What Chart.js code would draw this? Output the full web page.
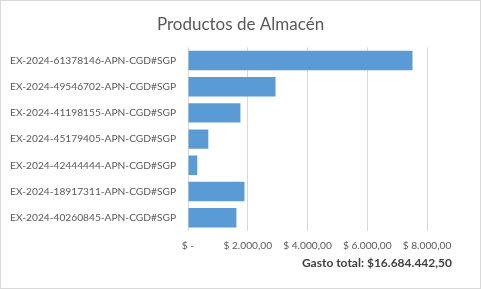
<!DOCTYPE html>
<html>
<head>
<meta charset="utf-8">
<script src="https://cdn.jsdelivr.net/npm/chart.js@4"></script>
<style>
  html, body { margin: 0; padding: 0; background: #fff; }
  #wrap { width: 479px; height: 287px; border: 1px solid #d9d9d9; position: relative; }
</style>
</head>
<body>
<div id="wrap"><canvas id="gastoChart"></canvas></div>
<script>
const expedientes = [
  'EX-2024-61378146-APN-CGD#SGP',
  'EX-2024-49546702-APN-CGD#SGP',
  'EX-2024-41198155-APN-CGD#SGP',
  'EX-2024-45179405-APN-CGD#SGP',
  'EX-2024-42444444-APN-CGD#SGP',
  'EX-2024-18917311-APN-CGD#SGP',
  'EX-2024-40260845-APN-CGD#SGP'
];
const gastos = [7515, 2930, 1755, 680, 310, 1890, 1620];
const tickLabels = ['$ -', '$ 2.000,00', '$ 4.000,00', '$ 6.000,00', '$ 8.000,00'];
const totalTexto = 'Gasto total: $16.684.442,50';

// center the title over the whole canvas, not over the padded box
const centrarTitulo = {
  id: 'centrarTitulo',
  afterLayout(chart) {
    const t = chart.titleBlock;
    if (t) t.left = chart.width - t.right;
  }
};

new Chart(document.getElementById('gastoChart'), {
  type: 'bar',
  data: {
    labels: expedientes,
    datasets: [{
      label: 'Gasto',
      data: gastos,
      backgroundColor: '#5b9bd5',
      barPercentage: 0.74,
      categoryPercentage: 1
    }]
  },
  options: {
    indexAxis: 'y',
    responsive: true,
    maintainAspectRatio: false,
    animation: false,
    layout: { padding: { left: 7, right: 28, top: 13, bottom: 19 } },
    plugins: {
      legend: { display: false },
      tooltip: { enabled: false },
      title: {
        display: true,
        text: 'Productos de Almacén',
        color: '#595959',
        font: { family: 'Lato', size: 17, weight: 'normal' },
        padding: { top: 0, bottom: 13 }
      },
      subtitle: {
        display: true,
        position: 'bottom',
        align: 'end',
        text: totalTexto,
        color: '#404040',
        font: { family: 'Lato', size: 12, weight: 'bold', lineHeight: 1 },
        padding: { top: -4, bottom: 0 }
      }
    },
    scales: {
      x: {
        min: 0,
        max: 8000,
        afterFit: (scale) => { scale.paddingRight = 53; },
        ticks: {
          stepSize: 2000,
          color: '#595959',
          padding: 10,
          maxRotation: 0,
          font: { family: 'Lato', size: 10.2, lineHeight: 1 },
          callback: (v, i) => tickLabels[i]
        },
        grid: { color: '#d9d9d9', drawTicks: false },
        border: { display: false }
      },
      y: {
        afterFit: (scale) => { scale.width = 180; },
        ticks: {
          color: '#595959',
          padding: 12,
          font: { family: 'Lato', size: 10.2 }
        },
        grid: { display: false, drawTicks: false },
        border: { display: false }
      }
    }
  },
  plugins: [centrarTitulo]
});
</script>
</body>
</html>
